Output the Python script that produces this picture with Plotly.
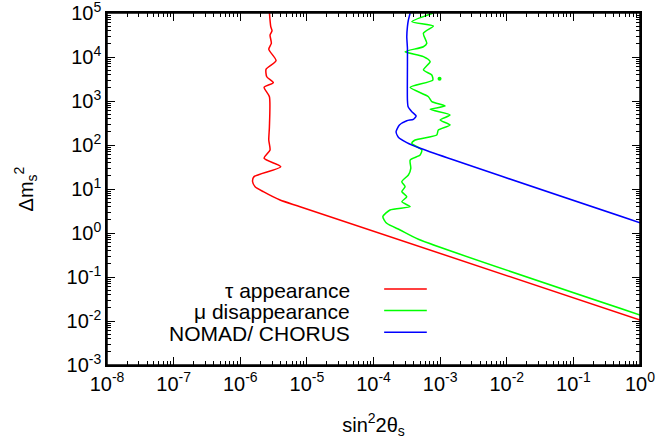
import plotly.graph_objects as go

# ---- data (sin^2 2theta_s, Delta m_s^2) ----
tau_x = [2.74e-6, 2.87e-6, 3.0e-6, 2.80e-6, 2.93e-6, 2.68e-6, 3.45e-6, 2.44e-6, 2.50e-6,
         3.14e-6, 2.28e-6, 2.74e-6, 2.74e-6, 2.68e-6, 2.80e-6, 2.28e-6, 4.06e-6, 1.61e-6,
         1.53e-6, 1.67e-6, 2.22e-6, 3.96e-6, 7.9e-6, 1.0]
tau_y = [1.0e5, 48900, 39600, 31600, 20500, 15000, 8240, 5250, 3560,
         2610, 2050, 1250, 261, 130, 76.9, 49.9, 32.1, 19.1,
         14.8, 11.3, 8.69, 5.62, 3.96, 0.0105]

mu_x = [7.9e-4, 3.76e-4, 7.9e-4, 5.61e-4, 6.31e-4, 5.61e-4, 2.98e-4, 5.61e-4, 7.08e-4,
        5.61e-4, 7.5e-4, 7.76e-4, 3.55e-4, 6.67e-4, 7.5e-4, 1.19e-3, 7.08e-4, 1.41e-3,
        1.0e-3, 1.41e-3, 9.4e-4, 8.9e-4, 4.22e-4, 3.76e-4, 5.31e-4, 5.01e-4, 3.55e-4,
        3.63e-4, 3.34e-4, 2.66e-4, 2.98e-4, 2.66e-4, 3.16e-4, 2.66e-4, 3.55e-4, 1.77e-4,
        1.38e-4, 1.58e-4, 2.51e-4, 4.72e-4, 1.0]
mu_y = [1.0e5, 63400, 50700, 34600, 20500, 17100, 13200, 10200, 7820,
        5070, 3900, 3000, 2050, 1250, 964, 769, 647, 481,
        370, 285, 219, 169, 130, 109, 76.9, 59.3, 45.6,
        29.5, 20.8, 14.7, 11.3, 8.69, 6.68, 5.14, 3.96, 3.33,
        2.35, 1.66, 1.17, 0.72, 0.0137]
mu_dot_x = [9.8e-4]
mu_dot_y = [3210]

nomad_x = [3.55e-4, 3.34e-4, 3.23e-4, 3.16e-4, 3.23e-4, 3.23e-4, 3.23e-4, 3.31e-4, 3.76e-4,
           4.36e-4, 3.97e-4, 3.16e-4, 2.45e-4, 2.18e-4, 2.36e-4, 3.16e-4, 5.01e-4, 1.0]
nomad_y = [1.0e5, 69300, 48900, 28900, 15800, 6030, 1050, 741, 571,
           456, 384, 356, 285, 200, 150, 113, 84.1, 1.71]

series_names = ["τ appearance", "μ disappearance", "NOMAD/ CHORUS"]
series_colors = ["#ff0000", "#00ff00", "#0000ff"]

x_exps = list(range(-8, 1))
y_exps = list(range(-3, 6))
x_ticktext = ["10<sup>%d</sup>" % e for e in x_exps]
y_ticktext = ["10<sup>%d</sup>" % e for e in y_exps]

FONT = "Liberation Sans, Arial, Helvetica, sans-serif"
FS = 20

fig = go.Figure()
for xs, ys, name, col in zip([tau_x, mu_x, nomad_x], [tau_y, mu_y, nomad_y],
                             series_names, series_colors):
    fig.add_trace(go.Scatter(x=xs, y=ys, mode="lines", name=name,
                             line=dict(color=col, width=1.5, shape="spline", smoothing=0.6),
                             showlegend=False, cliponaxis=True))
fig.add_trace(go.Scatter(x=mu_dot_x, y=mu_dot_y, mode="markers",
                         marker=dict(color=series_colors[1], size=4), showlegend=False))

# legend (text on the left, sample line on the right, as in the reference)
leg_y = [0.212, 0.151, 0.089]
for name, col, yy in zip(series_names, series_colors, leg_y):
    fig.add_annotation(x=0.46, y=yy, xref="paper", yref="paper", text=name,
                       showarrow=False, xanchor="right", yanchor="middle",
                       font=dict(size=21, color="black", family=FONT))
    fig.add_shape(type="line", xref="paper", yref="paper", x0=0.52, x1=0.6,
                  y0=yy + 0.004, y1=yy + 0.004, line=dict(color=col, width=1.5))

# plot frame
fig.add_shape(type="rect", xref="paper", yref="paper", x0=0, x1=1, y0=0, y1=1,
              line=dict(color="black", width=1.5), layer="above")

minor_x = [k * 10.0 ** e for e in range(-8, 0) for k in range(2, 10)]
minor_y = [k * 10.0 ** e for e in range(-3, 5) for k in range(2, 10)]

axis_common = dict(type="log", showgrid=False, zeroline=False, showline=True,
                   linecolor="black", linewidth=1.5, mirror="allticks",
                   ticks="inside", ticklen=8, tickcolor="black", tickwidth=1,
                   automargin=False, ticklabeloverflow="allow",
                   tickfont=dict(size=FS, family=FONT, color="black"))

fig.update_xaxes(range=[-8, 0], tickmode="array",
                 tickvals=[10.0 ** e for e in x_exps], ticktext=x_ticktext,
                 minor=dict(tickmode="array", tickvals=minor_x, ticks="inside",
                            ticklen=4, tickcolor="black"),
                 title=dict(text="sin<sup>2</sup>2θ<sub>s</sub>",
                            font=dict(size=FS, family=FONT, color="black"), standoff=24),
                 **axis_common)
fig.update_yaxes(range=[-3, 5], tickmode="array",
                 tickvals=[10.0 ** e for e in y_exps], ticktext=y_ticktext,
                 minor=dict(tickmode="array", tickvals=minor_y, ticks="inside",
                            ticklen=4, tickcolor="black"),
                 title=dict(text="Δm<sub>s</sub><sup>2</sup>",
                            font=dict(size=FS, family=FONT, color="black"), standoff=28),
                 **axis_common)

fig.update_layout(width=658, height=445, autosize=False,
                  margin=dict(l=107, r=18, t=13, b=80),
                  plot_bgcolor="white", paper_bgcolor="white",
                  font=dict(family=FONT, color="black"))

fig.write_html("out.html", config={"displayModeBar": False},
               post_script="document.body.style.margin='0';")
